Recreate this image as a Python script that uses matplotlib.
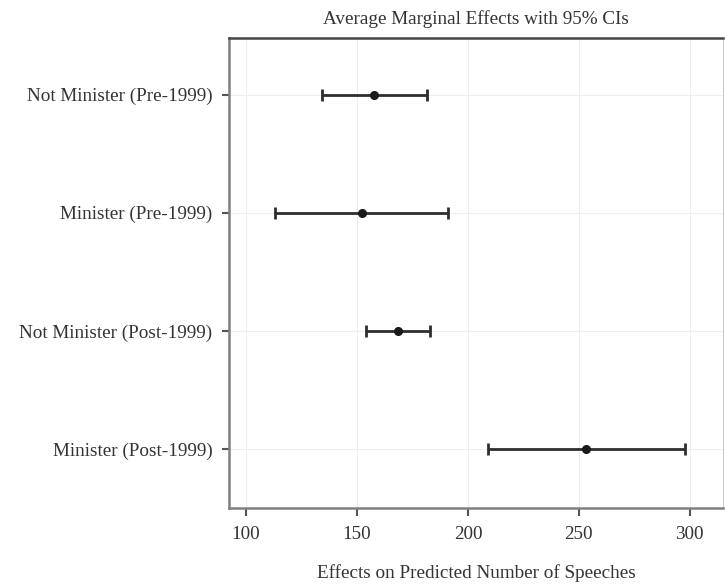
import matplotlib
matplotlib.use("Agg")
import matplotlib.pyplot as plt

categories = ["Not Minister (Pre-1999)", "Minister (Pre-1999)",
              "Not Minister (Post-1999)", "Minister (Post-1999)"]
estimates = [157.8, 152.1, 168.6, 253.2]
lower = [134.4, 113.1, 153.9, 208.9]
upper = [181.7, 190.9, 182.9, 297.7]
xticks = [100, 150, 200, 250, 300]

plt.rcParams['font.family'] = ['Liberation Serif', 'DejaVu Serif']

fig = plt.figure(figsize=(7.25, 5.87), dpi=100)
ax = fig.add_axes([229/725, 1-508/587, (723-229)/725, (508-38)/587])

n = len(categories)
ypos = [n - i for i in range(n)]
xerr = [[e - l for e, l in zip(estimates, lower)], [u - e for e, u in zip(estimates, upper)]]
ax.errorbar(estimates, ypos, xerr=xerr, fmt='o', color='#1a1a1a', ecolor='#2e2e2e',
            elinewidth=2, capsize=4, capthick=2, markersize=5.5, zorder=3)

ax.set_xlim(92.3, 315)
ax.set_ylim(0.5, 4.48)
ax.set_yticks(ypos)
ax.set_yticklabels(categories, fontsize=13.8, color='#333333')
ax.set_xticks(xticks)
ax.set_xticklabels([str(t) for t in xticks], fontsize=13.8, color='#333333')

ax.grid(True, color='#eeeeee', linewidth=0.8, zorder=0)
ax.set_axisbelow(True)

for s in ['left', 'bottom']:
    ax.spines[s].set_color('#808080')
    ax.spines[s].set_linewidth(1.8)
ax.spines['top'].set_color('#444444')
ax.spines['top'].set_linewidth(1.8)
ax.spines['right'].set_color('#cccccc')
ax.spines['right'].set_linewidth(0.8)

ax.tick_params(axis='x', length=6, width=1.5, color='#555555', pad=7)
ax.tick_params(axis='y', length=5, width=1.5, color='#555555', pad=7)

ax.set_title("Average Marginal Effects with 95% CIs", fontsize=13.8, color='#333333', pad=10)
ax.set_xlabel("Effects on Predicted Number of Speeches", fontsize=13.8, color='#333333', labelpad=15)

fig.savefig("out.png", dpi=100)
